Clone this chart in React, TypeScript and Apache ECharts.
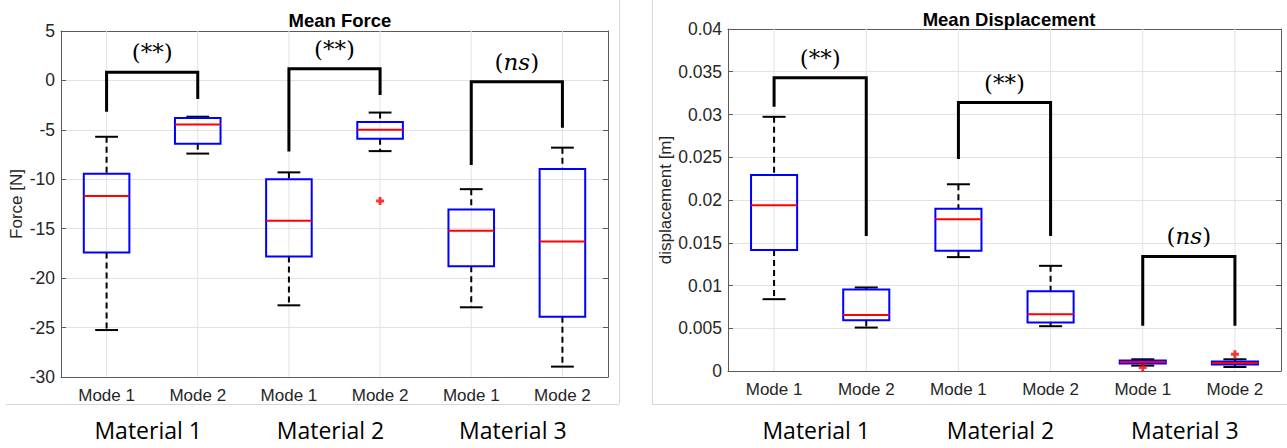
import React, { useEffect, useRef } from 'react';
import * as echarts from 'echarts';

const modeLabels = ['Mode 1', 'Mode 2', 'Mode 1', 'Mode 2', 'Mode 1', 'Mode 2'];
const materialLabels = ['Material 1', 'Material 2', 'Material 3'];

// [min, Q1, median, Q3, max] for each mode of each material
const forceBoxes = [
  [-25.25, -17.4, -11.7, -9.45, -5.7],
  [-7.4, -6.4, -4.45, -3.8, -3.67],
  [-22.75, -17.8, -14.2, -10.0, -9.3],
  [-7.15, -5.9, -5.0, -4.2, -3.25],
  [-22.95, -18.8, -15.2, -13.05, -11.0],
  [-28.95, -23.9, -16.3, -8.95, -6.8],
];
const forceOutliers = [[3, -12.2]];
// [left index, right index, left leg bottom, top, right leg bottom]
const forceBrackets = [
  [0, 1, -3.17, 0.82, -1.88],
  [2, 3, -7.2, 1.18, -1.48],
  [4, 5, -8.56, -0.13, -4.78],
];
const forceSignificance = ['(**)', '(**)', '(ns)'];

const dispBoxes = [
  [0.0084, 0.01414, 0.01938, 0.02293, 0.02973],
  [0.00508, 0.00594, 0.00656, 0.00954, 0.00977],
  [0.01332, 0.01406, 0.01774, 0.01898, 0.02184],
  [0.00524, 0.00567, 0.00664, 0.00934, 0.0123],
  [0.00063, 0.00087, 0.00105, 0.00122, 0.00137],
  [0.00047, 0.00075, 0.00094, 0.0011, 0.00137],
];
const dispOutliers = [[4, 0.0004], [5, 0.00196]];
const dispBrackets = [
  [0, 1, 0.0309, 0.0343, 0.0158],
  [2, 3, 0.0248, 0.0314, 0.0158],
  [4, 5, 0.0053, 0.0134, 0.0053],
];
const dispSignificance = ['(**)', '(**)', '(ns)'];

const AX = '#5a5a5a';
const TXT = '#262626';
const GRID = '#e3e3e3';
const SANS = '"Liberation Sans", Arial, sans-serif';
const PLUS = 'path://M3.2,0H6.8V3.2H10V6.8H6.8V10H3.2V6.8H0V3.2H3.2Z';

function renderGridLine(params: any, api: any) {
  const cs = params.coordSys;
  const p = api.coord([api.value(0), 0]);
  return {
    type: 'line',
    shape: { x1: p[0], y1: cs.y, x2: p[0], y2: cs.y + cs.height },
    style: { stroke: GRID, lineWidth: 1 },
    silent: true,
  };
}

function renderBox(params: any, api: any) {
  const x = api.value(0);
  const lo = api.coord([x, api.value(1)]);
  const q1 = api.coord([x, api.value(2)]);
  const med = api.coord([x, api.value(3)]);
  const q3 = api.coord([x, api.value(4)]);
  const hi = api.coord([x, api.value(5)]);
  const band = api.size([1, 0])[0];
  const bw = band * 0.5;
  const cw = band * 0.25;
  const cx = med[0];
  const black = { stroke: '#000', lineWidth: 2 };
  const dashed = { stroke: '#000', lineWidth: 2, lineDash: [6, 4] };
  return {
    type: 'group',
    children: [
      { type: 'line', shape: { x1: cx, y1: hi[1], x2: cx, y2: q3[1] }, style: dashed },
      { type: 'line', shape: { x1: cx, y1: q1[1], x2: cx, y2: lo[1] }, style: dashed },
      { type: 'line', shape: { x1: cx - cw / 2, y1: hi[1], x2: cx + cw / 2, y2: hi[1] }, style: black },
      { type: 'line', shape: { x1: cx - cw / 2, y1: lo[1], x2: cx + cw / 2, y2: lo[1] }, style: black },
      {
        type: 'rect',
        shape: { x: cx - bw / 2, y: q3[1], width: bw, height: q1[1] - q3[1] },
        style: { fill: 'none', stroke: '#0000ff', lineWidth: 2 },
      },
      { type: 'line', shape: { x1: cx - bw / 2, y1: med[1], x2: cx + bw / 2, y2: med[1] }, style: { stroke: '#ff0000', lineWidth: 2 } },
    ],
  };
}

function makeBracketRenderer(labels: string[]) {
  return function (params: any, api: any) {
    const l = api.value(0);
    const r = api.value(1);
    const a = api.coord([l, api.value(2)]);
    const b = api.coord([l, api.value(3)]);
    const c = api.coord([r, api.value(3)]);
    const d = api.coord([r, api.value(4)]);
    const label = labels[params.dataIndex];
    const text = label.replace(/[a-z]+/g, (m) => `{i|${m}}`);
    return {
      type: 'group',
      children: [
        {
          type: 'polyline',
          shape: { points: [a, b, c, d] },
          style: { stroke: '#000', lineWidth: 3, fill: 'none', lineJoin: 'miter' },
        },
        {
          type: 'text',
          x: (b[0] + c[0]) / 2,
          y: b[1] - 20,
          style: {
            text,
            fontFamily: '"DejaVu Serif", serif',
            fontSize: 23,
            fill: '#000',
            align: 'center',
            verticalAlign: 'middle',
            rich: {
              i: { fontFamily: '"DejaVu Serif", serif', fontSize: 23, fontStyle: 'italic', fill: '#000' },
            },
          },
        },
      ],
    };
  };
}

function buildPanel(
  gi: number,
  boxes: number[][],
  outliers: number[][],
  brackets: number[][],
  sig: string[],
  yMin: number,
  yMax: number,
  yInt: number,
  yName: string,
  yNameGap: number,
  matMargin: number,
  fmt: (v: number) => string,
) {
  const xb = gi * 3;
  const yl = gi * 2;
  const xAxes = [
    {
      type: 'category', gridIndex: gi, position: 'bottom', data: modeLabels,
      axisLine: { onZero: false, lineStyle: { color: AX, width: 1 } },
      axisTick: { inside: true, alignWithLabel: true, length: 5, lineStyle: { color: AX } },
      axisLabel: { color: TXT, fontSize: 17, fontFamily: SANS, margin: 10 },
      splitLine: { show: false },
    },
    {
      type: 'category', gridIndex: gi, position: 'top', data: modeLabels,
      axisLine: { onZero: false, lineStyle: { color: AX, width: 1 } },
      axisTick: { inside: true, alignWithLabel: true, length: 5, lineStyle: { color: AX } },
      axisLabel: { show: false },
      splitLine: { show: false },
    },
    {
      type: 'category', gridIndex: gi, position: 'bottom', data: materialLabels,
      axisLine: { show: false, onZero: false },
      axisTick: { show: false },
      axisLabel: { color: '#000', fontSize: 23, fontFamily: '"Open Sans", sans-serif', margin: matMargin, padding: [0, 8, 0, 0] },
      splitLine: { show: false },
    },
  ];
  const yAxes = [
    {
      type: 'value', gridIndex: gi, position: 'left', min: yMin, max: yMax, interval: yInt,
      name: yName, nameLocation: 'middle', nameGap: yNameGap,
      nameTextStyle: { color: TXT, fontSize: 17, fontFamily: SANS },
      axisLine: { show: true, onZero: false, lineStyle: { color: AX, width: 1 } },
      axisTick: { show: true, inside: true, length: 5, lineStyle: { color: AX } },
      axisLabel: { color: TXT, fontSize: 17.5, fontFamily: SANS, margin: 6, formatter: fmt },
      splitLine: { show: true, lineStyle: { color: GRID, width: 1 } },
    },
    {
      type: 'value', gridIndex: gi, position: 'right', min: yMin, max: yMax, interval: yInt,
      axisLine: { show: true, onZero: false, lineStyle: { color: AX, width: 1 } },
      axisTick: { show: true, inside: true, length: 5, lineStyle: { color: AX } },
      axisLabel: { show: false },
      splitLine: { show: false },
    },
  ];
  const series = [
    {
      type: 'custom', xAxisIndex: xb, yAxisIndex: yl, z: 1, silent: true,
      data: modeLabels.map((_, i) => [i]),
      renderItem: renderGridLine,
    },
    {
      type: 'custom', xAxisIndex: xb, yAxisIndex: yl, z: 3, silent: true,
      data: boxes.map((b, i) => [i, ...b]),
      encode: { x: 0, y: [1, 2, 3, 4, 5] },
      renderItem: renderBox,
    },
    {
      type: 'scatter', xAxisIndex: xb, yAxisIndex: yl, z: 4, silent: true,
      symbol: PLUS, symbolSize: 8,
      itemStyle: { color: '#ff0000' },
      data: outliers,
    },
    {
      type: 'custom', xAxisIndex: xb, yAxisIndex: yl, z: 5, silent: true,
      data: brackets,
      encode: { x: [0, 1], y: [2, 3, 4] },
      renderItem: makeBracketRenderer(sig),
    },
  ];
  return { xAxes, yAxes, series };
}

export default function App() {
  const ref = useRef<HTMLDivElement>(null);
  useEffect(() => {
    if (!ref.current) return;
    const chart = echarts.init(ref.current, undefined, { renderer: 'svg' });
    const p0 = buildPanel(0, forceBoxes, forceOutliers, forceBrackets, forceSignificance,
      -30, 5, 5, 'Force [N]', 36, 41, (v: number) => String(v));
    const p1 = buildPanel(1, dispBoxes, dispOutliers, dispBrackets, dispSignificance,
      0, 0.04, 0.005, 'displacement [m]', 54, 47, (v: number) => String(+v.toFixed(3)));
    chart.setOption({
      animation: false,
      backgroundColor: '#ffffff',
      title: [
        { text: 'Mean Force', left: 335, top: 6, textAlign: 'center',
          textStyle: { fontSize: 18.5, fontWeight: 'bold', color: '#000', fontFamily: SANS } },
        { text: 'Mean Displacement', left: 1004, top: 5, textAlign: 'center',
          textStyle: { fontSize: 18.5, fontWeight: 'bold', color: '#000', fontFamily: SANS } },
      ],
      grid: [
        { left: 61, top: 31, width: 547, height: 346 },
        { left: 728, top: 29, width: 553, height: 342 },
      ],
      xAxis: [...p0.xAxes, ...p1.xAxes],
      yAxis: [...p0.yAxes, ...p1.yAxes],
      series: [...p0.series, ...p1.series],
      graphic: [
        { type: 'line', shape: { x1: 6, y1: 404.5, x2: 619, y2: 404.5 }, style: { stroke: '#d6d6d6', lineWidth: 1 }, silent: true },
        { type: 'line', shape: { x1: 619.5, y1: 0, x2: 619.5, y2: 404 }, style: { stroke: '#d6d6d6', lineWidth: 1 }, silent: true },
        { type: 'line', shape: { x1: 652.5, y1: 0, x2: 652.5, y2: 404 }, style: { stroke: '#d6d6d6', lineWidth: 1 }, silent: true },
        { type: 'line', shape: { x1: 652, y1: 404.5, x2: 1287, y2: 404.5 }, style: { stroke: '#d6d6d6', lineWidth: 1 }, silent: true },
      ],
    });
    return () => chart.dispose();
  }, []);
  return (
    <div
      ref={ref}
      style={{ position: 'fixed', left: 0, top: 0, width: 1287, height: 448, background: '#fff' }}
    />
  );
}
